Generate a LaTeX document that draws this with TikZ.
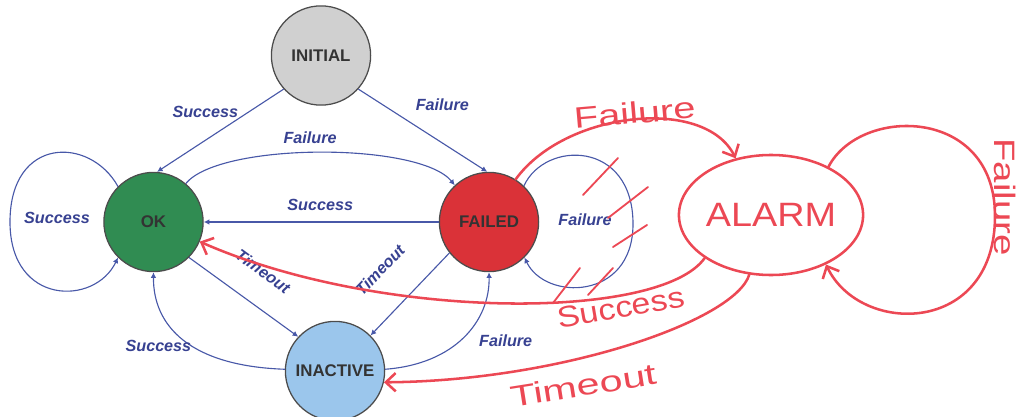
\documentclass[tikz,border=0pt]{standalone}
\usepackage{fontspec}
\setmainfont{Liberation Sans}
\usepackage{graphicx}
\usepackage{tikz}
\usetikzlibrary{shapes.geometric, arrows.meta}
\definecolor{flowblue}{RGB}{72,88,168}
\definecolor{tagblue}{RGB}{55,65,145}
\definecolor{penred}{RGB}{236,72,84}
\definecolor{okgreen}{RGB}{48,140,82}
\definecolor{failred}{RGB}{218,50,56}
\definecolor{idleblue}{RGB}{155,198,236}
\definecolor{initgray}{RGB}{208,208,208}
\newcommand{\scrawl}[2][1.3]{\scalebox{#1}[1]{#2}}

\begin{document}
\begin{tikzpicture}[x=0.025cm, y=0.025cm,
    state/.style={circle, draw=black!70, line width=0.9pt, minimum size=2.48cm,
        inner sep=0pt, text=black!80, font=\bfseries\fontsize{12}{14}\selectfont},
    flow/.style={draw=flowblue, line width=0.8pt, -{Latex[length=4pt,width=4pt]}},
    tag/.style={text=tagblue, inner sep=1pt, font=\bfseries\itshape\fontsize{11.5}{13}\selectfont},
    pen/.style={draw=penred, line width=1.8pt, line cap=round,
        -{Straight Barb[length=7pt,width=13pt]}},
    scrawl/.style={text=penred, inner sep=1pt, font=\fontsize{21}{23}\selectfont}]

        \useasboundingbox (0,0) rectangle (1017,416);

        \node[state, fill=initgray] (initial) at (321,360.5) {INITIAL};
        \node[state, fill=okgreen] (ok) at (153.5,194) {OK};
        \node[state, fill=failred] (failed) at (489,194) {FAILED};
        \node[state, fill=idleblue] (inactive) at (335,45) {INACTIVE};
        \node[ellipse, draw=penred, line width=1.8pt, minimum width=4.55cm,
            minimum height=3cm, inner sep=0pt, text=penred,
            font=\fontsize{24}{26}\selectfont] (alarm) at (771,201) {\scrawl[1.12]{ALARM}};

        \draw[flow] (initial.222) to
        node[tag, shift={(-15,18.5)}] {Success} (ok.86);
        \draw[flow] (initial.318) to
        node[tag, shift={(19.5,25.5)}] {Failure} (failed.92);
        \draw[flow] (ok.50) .. controls (220,274) and (420,274) .. (failed.133)
        node[tag, pos=0.5, shift={(-10,15)}] {Failure};
        \draw[flow] (failed.west) to
        node[tag, shift={(-1,17)}] {Success} (ok.east);
        \draw[flow] (ok.135) .. controls (90,280) and (10,280) .. (10,194)
        node[tag, shift={(47,4)}] {Success}
        .. controls (10,110) and (95,110) .. (ok.225);
        \draw[flow] (ok.-45) to
        node[tag, shift={(19.4,26)}, rotate=-36] {Timeout} (inactive.137);
        \draw[flow] (failed.218) to
        node[tag, shift={(-30,24.4)}, rotate=46] {Timeout} (inactive.45);
        \draw[flow] (inactive.178) .. controls (190,50) and (153,90) .. (ok.south)
        node[tag, pos=0.5, shift={(-25,-6)}] {Success};
        \draw[flow] (inactive.2) .. controls (455,52) and (490,95) .. (failed.south)
        node[tag, pos=0.5, shift={(42,-3.5)}] {Failure};
        \draw[flow] (failed.46) .. controls (545,276) and (633,276) .. (633,192)
        node[tag, shift={(-48,4)}] {Failure}
        .. controls (633,115) and (545,115) .. (failed.-45);

        \draw[pen] (failed.58) .. controls (565,305) and (705,320) .. (alarm.122)
        node[scrawl, pos=0.5, shift={(2,7)}, rotate=5] {\scrawl[1.35]{Failure}};
        \draw[pen] (alarm.213) .. controls (660,95) and (380,95) .. (ok.-23)
        node[scrawl, pos=0.3, shift={(11,-10)}, rotate=10] {\scrawl[1.15]{Success}};
        \draw[pen] (alarm.250) .. controls (735,95) and (560,35) .. (inactive.-13)
        node[scrawl, pos=0.6, shift={(-1,-28)}, rotate=9] {\scrawl[1.4]{Timeout}};
        \draw[pen] (alarm.40) .. controls (860,310) and (995,310) .. (995,200)
        node[scrawl, shift={(10,19)}, rotate=-90] {\scrawl{Failure}}
        .. controls (995,80) and (860,80) .. (alarm.-42);

        \draw[penred, line width=1.3pt, line cap=round] (583,221) -- (618,258);
        \draw[penred, line width=1.3pt, line cap=round] (608,198) -- (648,229);
        \draw[penred, line width=1.3pt, line cap=round] (613,169) -- (647,191);
        \draw[penred, line width=1.3pt, line cap=round] (553,113) -- (580,148);
        \draw[penred, line width=1.3pt, line cap=round] (588,121) -- (613,148);

\end{tikzpicture}
\end{document}
